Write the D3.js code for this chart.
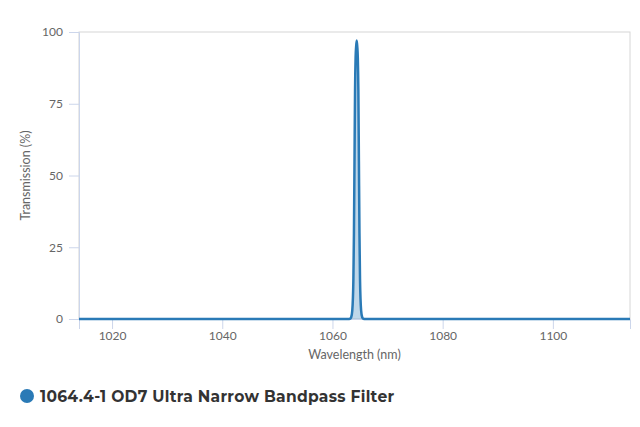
<!DOCTYPE html>
<meta charset="utf-8">
<title>1064.4-1 OD7 Ultra Narrow Bandpass Filter</title>
<script src="https://d3js.org/d3.v7.min.js"></script>
<style>
  body { margin: 0; background: #fff; }
  text { font-family: Lato, "Open Sans", sans-serif; }
</style>
<body>
<svg id="chart" width="640" height="427"></svg>
</body>
<script>
// transmission curve (nm, %)
const wavelengths = [1014, 1062.8, 1063.2, 1063.4, 1063.6, 1063.8, 1063.9, 1064.0, 1064.1, 1064.2, 1064.3,
                     1064.4, 1064.5, 1064.6, 1064.7, 1064.8, 1064.9, 1065.0, 1065.2, 1065.4, 1065.6, 1066.0, 1114]
const transmission = [0, 0, 0.1, 0.6, 3, 14, 30, 55, 80, 91, 95,
                      97, 95, 91, 80, 55, 30, 14, 3, 0.6, 0.1, 0, 0]
const xTicks = [1020, 1040, 1060, 1080, 1100]
const yTicks = [0, 25, 50, 75, 100]
const seriesName = "1064.4-1 OD7 Ultra Narrow Bandpass Filter"

let svg = d3.select("#chart")
let margin = {left: 79, right: 10, top: 32, bottom: 108}
let width = 640 - margin.left - margin.right
let height = 427 - margin.top - margin.bottom

let data = wavelengths.map((w, i) => ({w: w, t: transmission[i]}))

let x = d3.scaleLinear().domain([1014, 1114]).range([0, width])
let y = d3.scaleLinear().domain([0, 100]).range([height, 0])

let body = svg.append("g").attr("transform", `translate(${margin.left},${margin.top})`)

// frame
body.append("rect")
    .attr("x", 0).attr("y", 0)
    .attr("width", width).attr("height", height)
    .attr("fill", "none")
    .attr("stroke", "#d6d6d6")

// y axis
let yAxis = body.append("g")
    .call(d3.axisLeft(y).tickValues(yTicks).tickSize(10).tickPadding(6))
yAxis.select(".domain").attr("stroke", "#ccd6eb")
yAxis.selectAll(".tick line").attr("stroke", "#ccd6eb")
yAxis.selectAll("text").attr("fill", "#666").style("font-size", "12px")

// x axis
let xAxis = body.append("g")
    .attr("transform", `translate(0,${height})`)
    .call(d3.axisBottom(x).tickValues(xTicks).tickFormat(d3.format("d")).tickSize(10).tickPadding(2))
xAxis.select(".domain").attr("stroke", "#ccd6eb")
xAxis.selectAll(".tick line").attr("stroke", "#ccd6eb")
xAxis.selectAll("text").attr("fill", "#666").style("font-size", "12px")

// axis titles
body.append("text")
    .attr("x", width / 2)
    .attr("y", height + 40)
    .attr("text-anchor", "middle")
    .attr("fill", "#666")
    .style("font-size", "12.5px")
    .text("Wavelength (nm)")

body.append("text")
    .attr("transform", `translate(-49,${height / 2}) rotate(-90)`)
    .attr("text-anchor", "middle")
    .attr("fill", "#666")
    .style("font-size", "12.5px")
    .text("Transmission (%)")

// area + line
let area = d3.area()
    .x(d => x(d.w))
    .y0(y(0))
    .y1(d => y(d.t))
    .curve(d3.curveMonotoneX)

let line = d3.line()
    .x(d => x(d.w))
    .y(d => y(d.t))
    .curve(d3.curveMonotoneX)

body.append("path")
    .datum(data)
    .attr("d", area)
    .attr("fill", "#2a7ab6")
    .attr("fill-opacity", 0.3)

body.append("path")
    .datum(data)
    .attr("d", line)
    .attr("fill", "none")
    .attr("stroke", "#2a7ab6")
    .attr("stroke-width", 2.5)

// legend
let legend = svg.append("g").attr("transform", "translate(27,396)")
legend.append("circle")
    .attr("r", 7)
    .attr("fill", "#2a7ab6")
legend.append("text")
    .attr("x", 13)
    .attr("y", 5.5)
    .attr("fill", "#333")
    .style("font-family", "Montserrat, 'Open Sans', sans-serif")
    .style("font-weight", "bold")
    .style("font-size", "15.5px")
    .style("letter-spacing", "0.3px")
    .text(seriesName)
</script>
